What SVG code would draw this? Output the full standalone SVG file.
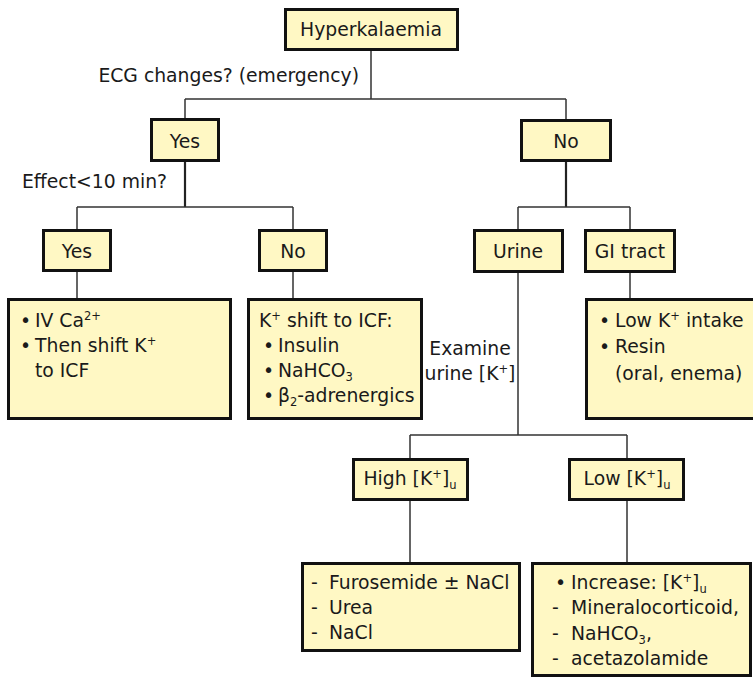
<svg xmlns="http://www.w3.org/2000/svg" width="753" height="678" viewBox="0 0 753 678">
<style>
.box{fill:#FFF8C4;stroke:#111;stroke-width:3}
.ln{fill:none;stroke:#333;stroke-width:1.5}
.lnb{fill:none;stroke:#222;stroke-width:2.2}
text{font-family:"DejaVu Sans","Liberation Sans",sans-serif;font-size:18.8px;fill:#1a1a1a}
.c{text-anchor:middle}
.e{text-anchor:end}
.sup{font-size:11.5px}
</style>
<rect width="753" height="678" fill="#fff"/>
<g id="connectors">
<path class="ln" d="M371,51V99M185,99H566M185,99V118M566,99V119"/>
<path class="lnb" d="M185,162V207"/>
<path class="ln" d="M77,207H293M77,207V229M293,207V229"/>
<path class="ln" d="M77,272V298M293,272V298"/>
<path class="lnb" d="M566,162V207"/>
<path class="ln" d="M518,207H630M518,207V229M630,207V229"/>
<path class="ln" d="M630,273V298"/>
<path class="ln" d="M518,273V435M410,435H627M410,435V458M627,435V458"/>
<path class="ln" d="M410,501V562M627,501V562"/>
</g>
<g id="labels">
<text class="e" x="359" y="82">ECG changes? (emergency)</text>
<text x="22" y="188">Effect&lt;10 min?</text>
<text class="c" x="470" y="355">Examine</text>
<text class="c" x="470" y="380">urine [K<tspan class="sup" dy="-7">+</tspan><tspan dy="7">]</tspan></text>
</g>
<g id="hyperkalaemia"><rect class="box" x="285.5" y="9.5" width="172" height="40"/><text class="c" x="371" y="36">Hyperkalaemia</text></g>
<g id="yes1"><rect class="box" x="151.5" y="119.5" width="67" height="41"/><text class="c" x="185" y="148">Yes</text></g>
<g id="no1"><rect class="box" x="521.5" y="120.5" width="89" height="40"/><text class="c" x="566" y="148">No</text></g>
<g id="yes2"><rect class="box" x="43.5" y="230.5" width="67" height="40"/><text class="c" x="77" y="258">Yes</text></g>
<g id="no2"><rect class="box" x="259.5" y="230.5" width="67" height="40"/><text class="c" x="293" y="258">No</text></g>
<g id="urine"><rect class="box" x="474.5" y="230.5" width="88" height="41"/><text class="c" x="518" y="258">Urine</text></g>
<g id="gitract"><rect class="box" x="585.5" y="230.5" width="89" height="41"/><text class="c" x="630" y="258">GI tract</text></g>
<g id="ivca"><rect class="box" x="8.5" y="299.5" width="222" height="119"/>
<text x="20" y="327">•</text><text x="35" y="327">IV Ca<tspan class="sup" dy="-7">2+</tspan></text>
<text x="20" y="352">•</text><text x="35" y="352">Then shift K<tspan class="sup" dy="-7">+</tspan></text>
<text x="35" y="377">to ICF</text></g>
<g id="kshift"><rect class="box" x="248.5" y="299.5" width="173" height="119"/>
<text x="259" y="327">K<tspan class="sup" dy="-7">+</tspan><tspan dy="7"> shift to ICF:</tspan></text>
<text x="263" y="352">•</text><text x="278" y="352">Insulin</text>
<text x="263" y="377">•</text><text x="278" y="377">NaHCO<tspan class="sup" dy="4">3</tspan></text>
<text x="263" y="402">•</text><text x="278" y="402">β<tspan class="sup" dy="4">2</tspan><tspan dy="-4">-adrenergics</tspan></text></g>
<g id="gicontent"><rect class="box" x="586.5" y="299.5" width="172" height="119"/>
<text x="599" y="327">•</text><text x="615" y="327">Low K<tspan class="sup" dy="-7">+</tspan><tspan dy="7"> intake</tspan></text>
<text x="599" y="353">•</text><text x="615" y="353">Resin</text>
<text x="615" y="380">(oral, enema)</text></g>
<g id="high"><rect class="box" x="353.5" y="459.5" width="114" height="40"/><text class="c" x="410" y="485">High [K<tspan class="sup" dy="-7">+</tspan><tspan dy="7">]</tspan><tspan class="sup" dy="4">u</tspan></text></g>
<g id="low"><rect class="box" x="569.5" y="459.5" width="114" height="40"/><text class="c" x="627" y="485">Low [K<tspan class="sup" dy="-7">+</tspan><tspan dy="7">]</tspan><tspan class="sup" dy="4">u</tspan></text></g>
<g id="furosemide"><rect class="box" x="302.5" y="563.5" width="217" height="87"/>
<text x="311" y="589">-</text><text x="329" y="589">Furosemide ± NaCl</text>
<text x="311" y="614">-</text><text x="329" y="614">Urea</text>
<text x="311" y="639">-</text><text x="329" y="639">NaCl</text></g>
<g id="lowcontent"><rect class="box" x="532.5" y="563.5" width="218" height="112"/>
<text x="555" y="589">•</text><text x="571" y="589">Increase: [K<tspan class="sup" dy="-7">+</tspan><tspan dy="7">]</tspan><tspan class="sup" dy="4">u</tspan></text>
<text x="552" y="614">-</text><text x="571" y="614">Mineralocorticoid,</text>
<text x="552" y="640">-</text><text x="571" y="640">NaHCO<tspan class="sup" dy="4">3</tspan><tspan dy="-4">,</tspan></text>
<text x="552" y="665">-</text><text x="571" y="665">acetazolamide</text></g>
</svg>
